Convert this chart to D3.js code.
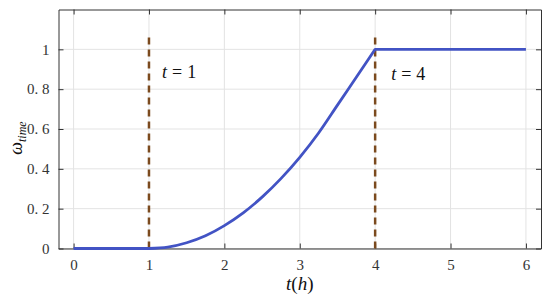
<!DOCTYPE html>
<html><head><meta charset="utf-8">
<script src="https://cdn.jsdelivr.net/npm/d3@7/dist/d3.min.js"></script>
<style>body{margin:0;background:#fff}svg{display:block}
svg text{font-family:"Liberation Serif","Times New Roman",serif}</style>
</head><body>
<svg id="c" width="550" height="298"></svg>
<script>
const tValues = [0, 0.5, 1, 1.25, 1.5, 1.75, 2, 2.25, 2.5, 2.75, 3, 3.25, 3.5, 3.75, 4, 5, 6];
const wValues = [0, 0, 0, 0.007, 0.029, 0.064, 0.115, 0.179, 0.258, 0.351, 0.458, 0.58, 0.72, 0.86, 1, 1, 1];
const markerTimes = [1, 4];
const markerValues = ["1", "4"];
const xTicks = [0, 1, 2, 3, 4, 5, 6];
const yTicks = [0, 0.2, 0.4, 0.6, 0.8, 1];
const yTickLabels = ["0", "0. 2", "0. 4", "0. 6", "0. 8", "1"];

const svg = d3.select("#c");
const L = 58.5, R = 541, T = 9.5, B = 248.5;
const x = d3.scaleLinear().domain([-0.2, 6.2]).range([L, R]);
const y = d3.scaleLinear().domain([0, 1.2]).range([B, T]);

// grid
const g = svg.append("g");
g.selectAll(".gx").data(xTicks).enter().append("line")
  .attr("x1", d => x(d)).attr("x2", d => x(d)).attr("y1", T).attr("y2", B)
  .attr("stroke", "#e3e3e3").attr("stroke-width", 1);
g.selectAll(".gy").data(yTicks).enter().append("line")
  .attr("x1", L).attr("x2", R).attr("y1", d => y(d)).attr("y2", d => y(d))
  .attr("stroke", "#e3e3e3").attr("stroke-width", 1);

// axes
const axB = d3.axisBottom(x).tickValues(xTicks).tickSizeInner(-5).tickSizeOuter(0).tickPadding(11).tickFormat(d3.format("d"));
const axT = d3.axisTop(x).tickValues(xTicks).tickSizeInner(-5).tickSizeOuter(0).tickFormat("");
const axL = d3.axisLeft(y).tickValues(yTicks).tickSizeInner(-5).tickSizeOuter(0).tickPadding(9).tickFormat((d, i) => yTickLabels[i]);
const axR = d3.axisRight(y).tickValues(yTicks).tickSizeInner(-5).tickSizeOuter(0).tickFormat("");
function style(sel){
  sel.attr("font-family", null).attr("font-size", null);
  sel.selectAll("path,line").attr("stroke", "#333").attr("stroke-width", 1);
  sel.selectAll("text").style("font-size", "15px").attr("fill", "#333");
}
svg.append("g").attr("transform", `translate(0,${B})`).call(axB).call(style);
svg.append("g").attr("transform", `translate(0,${T})`).call(axT).call(style);
svg.append("g").attr("transform", `translate(${L},0)`).call(axL).call(style);
svg.append("g").attr("transform", `translate(${R},0)`).call(axR).call(style);

// dashed markers
svg.selectAll(".mk").data(markerTimes).enter().append("line")
  .attr("x1", d => x(d)).attr("x2", d => x(d)).attr("y1", y(0)).attr("y2", y(1.08))
  .attr("stroke", "#7b4a1e").attr("stroke-width", 2.5).attr("stroke-dasharray", "7,5");

// curve: flat part, rising part (smooth), flat part
const pts = tValues.map((t, i) => [t, wValues[i]]);
const rise = pts.filter(p => p[0] >= markerTimes[0] && p[0] <= markerTimes[1]);
const before = pts.filter(p => p[0] <= markerTimes[0]);
const after = pts.filter(p => p[0] >= markerTimes[1]);
const lineS = d3.line().x(d => x(d[0])).y(d => y(d[1])).curve(d3.curveMonotoneX);
const lineL = d3.line().x(d => x(d[0])).y(d => y(d[1]));
const full = lineL(before) + lineS(rise).replace(/^M/, "L") + lineL(after).replace(/^M/, "L");
svg.append("path").attr("d", full).attr("fill", "none").attr("stroke", "#4253c4")
  .attr("stroke-width", 2.8).attr("stroke-linejoin", "round");

// marker labels
const lblPos = [[x(1) + 13, 78], [x(4) + 16, 80]];
markerValues.forEach((v, i) => {
  const t = svg.append("text").attr("x", lblPos[i][0]).attr("y", lblPos[i][1])
    .style("font-size", "18px").attr("fill", "#111");
  t.append("tspan").attr("font-style", "italic").text("t");
  t.append("tspan").attr("dx", 5).text("=");
  t.append("tspan").attr("dx", 5).text(v);
});

// axis labels
const xl = svg.append("text").attr("x", x(3)).attr("y", 290).attr("text-anchor", "middle")
  .style("font-size", "19px").attr("fill", "#111");
xl.append("tspan").attr("font-style", "italic").text("t");
xl.append("tspan").text("(");
xl.append("tspan").attr("font-style", "italic").text("h");
xl.append("tspan").text(")");

const yl = svg.append("text").attr("transform", "translate(22,138) rotate(-90)").attr("text-anchor", "middle")
  .style("font-size", "18px").attr("fill", "#111").attr("font-style", "italic");
yl.append("tspan").text("ω");
yl.append("tspan").style("font-size", "12px").attr("dy", 4).text("time");
</script>
</body></html>
